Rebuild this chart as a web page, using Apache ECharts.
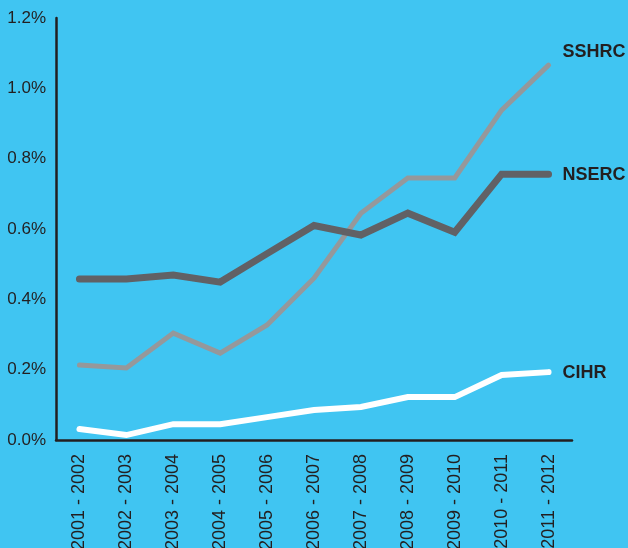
<!DOCTYPE html>
<html><head><meta charset="utf-8">
<script src="https://cdn.jsdelivr.net/npm/echarts@6/dist/echarts.min.js"></script>
<style>html,body{margin:0;padding:0;background:#40c5f2;overflow:hidden;}#c{width:628px;height:548px;}</style>
</head><body><div id="c"></div>
<script>
const categories = ['2001 - 2002','2002 - 2003','2003 - 2004','2004 - 2005','2005 - 2006','2006 - 2007','2007 - 2008','2008 - 2009','2009 - 2010','2010 - 2011','2011 - 2012'];
const sshrc = [0.213,0.205,0.304,0.247,0.327,0.46,0.645,0.745,0.745,0.938,1.066];
const nserc = [0.458,0.458,0.469,0.449,0.53,0.61,0.583,0.645,0.591,0.756,0.756];
const cihr  = [0.031,0.014,0.045,0.045,0.065,0.085,0.094,0.122,0.122,0.185,0.193];
const yTicks = [0,0.2,0.4,0.6,0.8,1.0,1.2];

const chart = echarts.init(document.getElementById('c'), null, {renderer:'canvas'});
const labelStyle = {fontFamily:'Liberation Sans', fontWeight:'bold', fontSize:18, color:'#231f20'};
function mk(name, data, color, width, offset){
  return {
    name, type:'line', data, symbol:'none', smooth:false,
    lineStyle:{color, width, cap:'round', join:'miter'},
    endLabel:{show:true, formatter:name, distance:14, offset, ...labelStyle},
    z: name==='CIHR'?3:2
  };
}
chart.setOption({
  backgroundColor:'#40c5f2',
  animation:false,
  grid:{left:56, right:56, top:18, bottom:108, containLabel:false, outerBoundsMode:'none'},
  xAxis:{type:'category', data:categories, boundaryGap:true,
    axisLine:{lineStyle:{color:'#231f20', width:2.5}}, axisTick:{show:false},
    axisLabel:{rotate:90, margin:14, fontFamily:'Liberation Sans', fontSize:18, color:'#231f20', interval:0}},
  yAxis:{type:'value', min:0, max:1.2, interval:0.2,
    axisLine:{show:true, lineStyle:{color:'#231f20', width:2.5}}, axisTick:{show:false}, splitLine:{show:false},
    axisLabel:{margin:10, fontFamily:'Liberation Sans', fontSize:17, color:'#231f20',
      formatter:v=>{const t=yTicks.find(x=>Math.abs(x-v)<1e-6); return (t!==undefined?t:v).toFixed(1)+'%';}}},
  series:[
    mk('SSHRC', sshrc, '#95989b', 5, [0,-13]),
    mk('NSERC', nserc, '#616165', 7, [0,1]),
    mk('CIHR', cihr, '#ffffff', 6, [0,1])
  ]
});
</script></body></html>
